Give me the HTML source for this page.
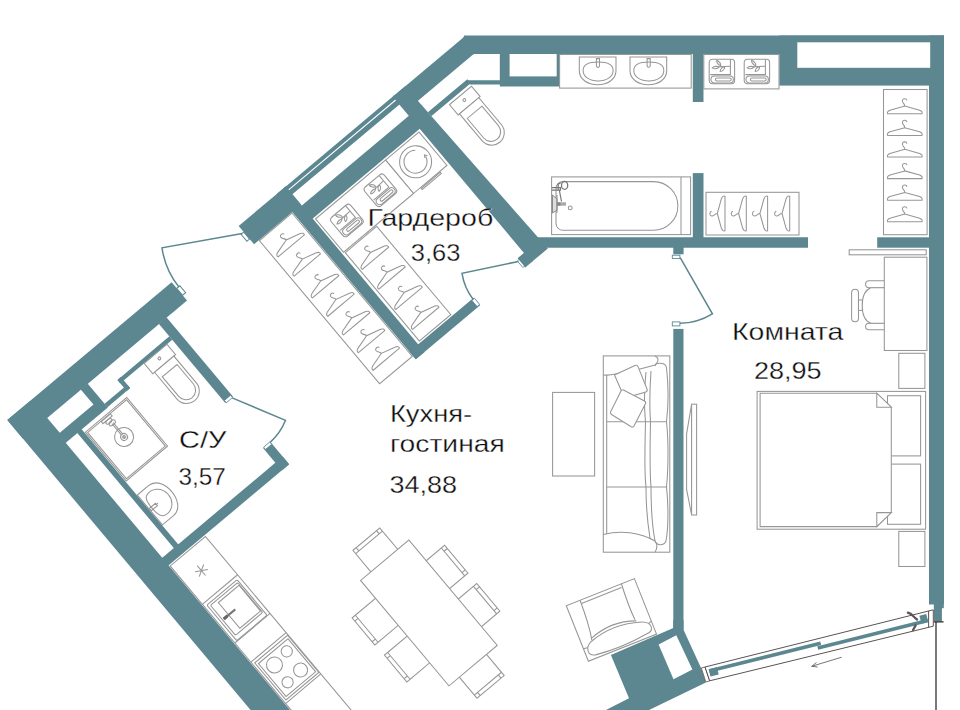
<!DOCTYPE html>
<html lang="ru"><head><meta charset="utf-8"><title>План квартиры</title>
<style>
html,body{margin:0;padding:0;background:#fff;}
body{width:960px;height:710px;overflow:hidden;position:relative;}
svg{position:absolute;left:0;top:0;display:block;}
.f{fill:none;stroke:#969696;stroke-width:1.05;}
.fw{fill:#fff;stroke:#969696;stroke-width:1.05;}
.t{font-family:"Liberation Sans","DejaVu Sans",sans-serif;font-size:24px;fill:#0c0c0c;stroke:#fff;stroke-width:0.32px;paint-order:fill stroke;}
.d{fill:none;stroke:#5c8791;stroke-width:1.5;}
</style></head><body>
<svg width="960" height="710" viewBox="0 0 960 710">
<defs>
<g id="hg"><path class="f" d="M18,8.3 C18,5.6 15.2,5.2 15.6,2.6 C16,0.4 19.6,0.2 20.2,2.6 M18,8.3 L3.2,12.4 Q-0.2,13.8 0.8,16 L35.2,16 Q36.2,13.8 32.8,12.4 Z"/></g>
<g id="tw"><rect class="f" x="0" y="0" width="25.4" height="24.6" rx="3.2"/><path class="f" d="M1.2,15.4 H21.2 V0.3"/><rect class="f" x="1.7" y="16.7" width="22.5" height="7.1" rx="3.55"/><rect class="f" x="6.2" y="18.7" width="15.8" height="3" rx="1.5"/><path class="f" d="M9.5,7.6 L20.8,7 M11.5,6.5 C8.5,5.5 7,2.5 7.5,1 C10,2 12,4.5 11.5,6.5 Z M3,8.6 C5,6.6 8.5,7 10,8 C8,10 4.5,10 3,8.6 Z M11,12.2 C11,9.6 13.5,7.6 15.5,7.6 C15.5,10 13.5,12.2 11,12.2 Z"/></g>
</defs>
<rect width="960" height="710" fill="#fff"/>

<g transform="translate(7.3,420.1) rotate(-40)">
<rect x="0.00" y="0.00" width="30.20" height="520.00" fill="#5c8791" />
<rect x="0.00" y="0.00" width="214.50" height="24.00" fill="#5c8791" />
<rect x="29.50" y="23.50" width="55.50" height="31.50" fill="#5c8791" />
<rect x="32.00" y="24.00" width="44.00" height="19.50" fill="#fff" />
<rect x="85.00" y="50.00" width="29.70" height="4.50" fill="#5c8791" />
<rect x="110.20" y="40.00" width="4.50" height="14.50" fill="#5c8791" />
<rect x="110.20" y="40.00" width="67.80" height="4.50" fill="#5c8791" />
<rect x="178.00" y="23.50" width="10.00" height="103.50" fill="#5c8791" />
<rect x="45.30" y="50.00" width="5.70" height="156.00" fill="#5c8791" />
<rect x="29.50" y="205.00" width="158.00" height="10.00" fill="#5c8791" />
<rect x="178.00" y="186.00" width="9.50" height="29.00" fill="#5c8791" />
<rect x="214.50" y="8.00" width="4.00" height="9.00" fill="#fff" stroke="#5c8791" stroke-width="1"/>
<rect x="298.50" y="8.00" width="3.50" height="9.00" fill="#fff" stroke="#5c8791" stroke-width="1"/>
<path class="d" d="M300,8 L229.2,-32.5 A82,82 0 0 0 217,8.5"/>
<rect x="179.00" y="124.50" width="8.00" height="3.00" fill="#fff" stroke="#5c8791" stroke-width="0.8"/>
<rect x="179.00" y="185.50" width="8.00" height="3.00" fill="#fff" stroke="#5c8791" stroke-width="0.8"/>
<path class="d" d="M186.5,127.5 L213,179 A59,59 0 0 1 187,186"/>
<rect x="302.00" y="0.00" width="61.50" height="24.00" fill="#5c8791" />
<rect x="352.00" y="0.00" width="11.50" height="216.00" fill="#5c8791" />
<rect x="360.00" y="0.00" width="146.00" height="3.90" fill="#5c8791" />
<rect x="360.00" y="5.00" width="146.00" height="5.30" fill="#5c8791" />
<rect x="360.00" y="25.00" width="146.00" height="17.00" fill="#5c8791" />
<rect x="352.00" y="206.00" width="84.00" height="10.00" fill="#5c8791" />
<rect x="432.80" y="207.00" width="3.40" height="8.00" fill="#fff" stroke="#5c8791" stroke-width="0.8"/>
<rect x="493.00" y="206.00" width="3.50" height="8.50" fill="#fff" stroke="#5c8791" stroke-width="0.8"/>
<path class="d" d="M493.5,207 L442.7,179.8 A57.5,57.5 0 0 0 434.5,207"/>
<polygon points="503.20,0.00 519.30,0.00 524.40,216.00 503.20,216.00" fill="#5c8791" />
<rect x="495.00" y="204.00" width="10.00" height="12.00" fill="#5c8791" />
<rect x="504.00" y="0.00" width="93.30" height="19.30" fill="#5c8791" />
<rect x="520.00" y="34.60" width="51.50" height="5.20" fill="#5c8791" />
</g>
<polygon points="464.10,35.50 944.00,35.50 944.00,54.00 474.20,54.00 458.00,60.00" fill="#5c8791" />
<rect x="929.00" y="35.50" width="15.00" height="569.00" fill="#5c8791" />
<rect x="933.90" y="600.00" width="9.90" height="8.20" fill="#5c8791" />
<rect x="933.90" y="600.00" width="8.00" height="21.30" fill="#5c8791" />
<rect x="779.30" y="35.50" width="164.70" height="50.10" fill="#5c8791" />
<rect x="797.30" y="42.30" width="132.90" height="25.50" fill="#fff" />
<rect x="692.80" y="50.00" width="10.70" height="52.00" fill="#5c8791" />
<rect x="692.80" y="173.10" width="10.70" height="66.90" fill="#5c8791" />
<polygon points="530.00,237.30 808.00,237.30 808.00,247.70 547.10,247.70 540.00,247.70" fill="#5c8791" />
<rect x="877.20" y="237.30" width="52.80" height="10.40" fill="#5c8791" />
<rect x="499.80" y="50.00" width="60.00" height="36.50" fill="#5c8791" />
<rect x="509.60" y="54.00" width="47.10" height="22.40" fill="#fff" />
<polygon points="466.90,80.20 500.00,80.20 500.00,84.60 470.00,84.60 468.00,83.00" fill="#5c8791" />
<rect x="673.30" y="247.00" width="10.30" height="7.30" fill="#5c8791" />
<rect x="673.30" y="328.90" width="10.20" height="301.10" fill="#5c8791" />
<rect x="672.30" y="255.20" width="7.60" height="3.40" fill="#fff" stroke="#5c8791" stroke-width="0.9"/>
<rect x="672.30" y="321.90" width="7.60" height="4.00" fill="#fff" stroke="#5c8791" stroke-width="0.9"/>
<path class="d" d="M680.2,257.7 L712.4,313.8 A65,65 0 0 1 680,323.3"/>
<polygon points="673.30,620.00 673.30,628.00 610.90,655.10 629.00,698.20 604.00,711.00 647.00,711.00 705.90,682.60 701.30,668.60 683.50,629.70 683.50,620.00" fill="#5c8791" />
<polygon points="658.60,644.40 676.30,635.30 692.40,669.40 673.50,679.20" fill="#fff" />
<polygon points="701.3,668 705,667 709.7,680.8 705.8,682" fill="#fff" stroke="#6b5a55" stroke-width="0.9"/>
<polygon points="705,667 933.3,609.8 933.3,626.2 709.7,680.8" fill="#fff" stroke="#4a4040" stroke-width="0.9"/>
<path d="M928.6,611 V627.2" fill="none" stroke="#4a4040" stroke-width="0.9"/>
<g transform="translate(705,667) rotate(-14.07)">
<rect x="3.00" y="3.20" width="115.00" height="3.60" fill="#5c8791" />
<rect x="3.00" y="3.20" width="8.50" height="7.30" fill="#5c8791" />
<rect x="114.00" y="7.20" width="113.50" height="3.60" fill="#5c8791" />
<rect x="220.50" y="2.40" width="7.00" height="8.20" fill="#5c8791" />
<path d="M210,-3.4 L212.5,-1.5 L215.5,3 L217.3,5.5 M214.4,10.8 L210.8,14.7" fill="none" stroke="#585858" stroke-width="2.3" stroke-linecap="round" stroke-linejoin="round"/>
</g>
<path d="M841.7,657.2 L811.7,666.3 M816.5,662.5 L811.7,666.3 L817.6,667" fill="none" stroke="#666" stroke-width="0.9"/>
<path d="M933.9,621.8 L943.5,621.8 M936,621.8 L936,711" fill="none" stroke="#222" stroke-width="1.2"/><g transform="translate(7.3,420.1) rotate(-40)">
<rect class="fw" x="141.3" y="44.5" width="29.69999999999999" height="13.5"/><circle class="f" cx="156.15" cy="50.5" r="1.4"/><path class="fw" d="M143.55,58.0 L143.55,93.0 A12.6,12.6 0 0 0 168.75,93.0 L168.75,58.0 Z"/><path class="f" d="M146.55,66.5 L146.55,92.0 A9.6,9.6 0 0 0 165.75,92.0 L165.75,66.5 Z"/>
<rect class="fw" x="541.5" y="42.6" width="28.700000000000045" height="13.5"/><circle class="f" cx="555.85" cy="48.6" r="1.4"/><path class="fw" d="M543.25,56.1 L543.25,91.1 A12.6,12.6 0 0 0 568.45,91.1 L568.45,56.1 Z"/><path class="f" d="M546.25,64.6 L546.25,90.1 A9.6,9.6 0 0 0 565.45,90.1 L565.45,64.6 Z"/>
<rect class="fw" x="52" y="59.5" width="54" height="63.5"/><rect class="f" x="53.6" y="61.1" width="50.8" height="60.3"/>
<circle class="f" cx="78.6" cy="88" r="9.5"/><circle class="f" cx="78.6" cy="88" r="3.4"/><circle cx="78.6" cy="88" r="1.7" fill="#aaa" stroke="#888" stroke-width="0.6"/>
<path class="f" d="M79.4,85 L79.4,70 M77.8,85 L77.8,70 M71,61.6 h12 v2.6 h-12 z"/><ellipse class="f" cx="78.6" cy="69.5" rx="3.6" ry="2.3"/><ellipse class="f" cx="77" cy="66.3" rx="3.6" ry="2"/>
<path class="fw" d="M51.5,141 L66,141 C76,141 80,152 80,160.5 C80,169 76,180 66,180 L51.5,180 Z"/>
<path class="f" d="M58,147.5 C53,150 53,171 58,173.5 C66,177 75.5,171 75.5,160.5 C75.5,150 66,144 58,147.5 Z"/>
<path class="f" d="M52,159 h8 v3 h-8 z M60,160.5 h2"/>
<rect class="fw" x="308.5" y="24.5" width="42.7" height="187"/>
<use href="#hg" x="311.5" y="33.0"/>
<use href="#hg" x="311.5" y="58.0"/>
<use href="#hg" x="311.5" y="86.5"/>
<use href="#hg" x="311.5" y="110.5"/>
<use href="#hg" x="311.5" y="134.8"/>
<use href="#hg" x="311.5" y="158.0"/>
<use href="#hg" x="311.5" y="181.0"/>
<rect class="fw" x="365.5" y="44" width="91.5" height="43.5"/>
<rect class="fw" x="457" y="44" width="43.5" height="43.5"/>
<circle class="f" cx="478.8" cy="64.6" r="16"/><path class="f" d="M490,67 A11.5,11.5 0 1 1 486,55.5 M488.5,67.5 l1.5,-2.5 l1.8,2.6"/>
<path class="f" d="M466,88.5 h25 v1.6 h-25 z"/>
<rect class="fw" x="366.5" y="89" width="41" height="115.3"/>
<use href="#hg" x="368" y="96.7"/>
<use href="#hg" x="368" y="122.5"/>
<use href="#hg" x="368" y="149.0"/>
<use href="#hg" x="368" y="175.0"/>
<g transform="translate(388.4,65.4) rotate(0) translate(-12.7,-12.3)"><use href="#tw"/></g>
<g transform="translate(433.5,63.8) rotate(0) translate(-12.7,-12.3)"><use href="#tw"/></g>
<rect class="fw" x="31" y="216.5" width="46" height="300"/>
<path class="f" d="M31,266.5 h46 M31,317 h46 M31,342 h46 M31,396 h46"/>
<path class="f" d="M52,233.5 v13 M46.4,236.8 l11.2,6.5 M46.4,243.3 l11.2,-6.5"/>
<rect class="f" x="34" y="270" width="39.5" height="46.5" rx="1.5"/><rect class="f" x="36.5" y="272.5" width="35.5" height="39" rx="1.5"/><rect class="f" x="44.3" y="275.5" width="27" height="33.5"/>
<path d="M38,291.5 h15" stroke="#777" stroke-width="2.2" fill="none"/><path d="M38,291.5 h5" stroke="#666" stroke-width="3" fill="none"/>
<rect class="f" x="33.5" y="345" width="43" height="48.5"/><rect class="f" x="35.8" y="348" width="38.6" height="43"/>
<circle class="f" cx="47.3" cy="359.3" r="8"/><circle class="f" cx="65.4" cy="356.8" r="5.6"/><circle class="f" cx="64" cy="380" r="7"/><circle class="f" cx="46.2" cy="381" r="5.6"/>
<rect class="fw" x="181" y="322" width="35" height="30"/><path class="f" d="M181,326.2 H216 M185.2,322 v4.2 M211.8,322 v4.2"/>
<rect class="fw" x="181" y="485" width="35.5" height="30"/><path class="f" d="M181,510.8 H216.5 M185.2,515 v-4.2 M212.3,515 v-4.2"/>
<rect class="fw" x="228" y="377" width="26.5" height="36.30000000000001"/><path class="f" d="M250.3,377 V413.3 M254.5,381.2 h-4.2 M254.5,409.1 h-4.2"/>
<rect class="fw" x="228" y="427" width="26.5" height="36"/><path class="f" d="M250.3,427 V463 M254.5,431.2 h-4.2 M254.5,458.8 h-4.2"/>
<rect class="fw" x="137" y="373.2" width="33" height="35.30000000000001"/><path class="f" d="M141.2,373.2 V408.5 M137,377.4 h4.2 M137,404.3 h4.2"/>
<rect class="fw" x="137.8" y="422.5" width="32.19999999999999" height="34.89999999999998"/><path class="f" d="M142.0,422.5 V457.4 M137.8,426.7 h4.2 M137.8,453.2 h4.2"/>
<rect class="fw" x="167.5" y="350" width="63" height="137.5"/>
</g>
<rect class="fw" x="559.6" y="54.5" width="131.6" height="33.6"/>
<path class="f" d="M579.3,57 h36.7 v13.5 c0,9 -8.5,14.2 -18.35,14.2 c-9.85,0 -18.35,-5.2 -18.35,-14.2 z"/>
<path class="f" d="M583.0999999999999,70.5 C583.0999999999999,64 590.3,62 598.0999999999999,62 C605.9,62 613.0999999999999,64 613.0999999999999,70.5 C613.0999999999999,77 606.3,81 598.0999999999999,81 C589.9,81 583.0999999999999,77 583.0999999999999,70.5 Z"/>
<path class="f" d="M596.4,58.6 v7.2 a1.55,1.55 0 0 0 3.1,0 v-7.2 z"/>
<path class="f" d="M630,57 h36.7 v13.5 c0,9 -8.5,14.2 -18.35,14.2 c-9.85,0 -18.35,-5.2 -18.35,-14.2 z"/>
<path class="f" d="M633.8,70.5 C633.8,64 641,62 648.8,62 C656.6,62 663.8,64 663.8,70.5 C663.8,77 657,81 648.8,81 C640.6,81 633.8,77 633.8,70.5 Z"/>
<path class="f" d="M647.1,58.6 v7.2 a1.55,1.55 0 0 0 3.1,0 v-7.2 z"/>
<rect class="fw" x="703.8" y="54.5" width="75.2" height="34.4"/>
<use href="#tw" x="709.2" y="59.2"/><use href="#tw" x="744.2" y="59.2"/>
<rect class="fw" x="551.6" y="176.9" width="139" height="57.7"/><path class="f" d="M681,176.9 v57.7"/>
<path class="f" d="M563,181.6 H653.5 A24.35,24.35 0 0 1 653.5,230.3 H563 A7,7 0 0 1 556,223.3 V188.6 A7,7 0 0 1 563,181.6 Z"/>
<circle class="f" cx="570.2" cy="207.9" r="1.9"/>
<ellipse cx="564.6" cy="185.4" rx="3.1" ry="3.9" fill="#fff" stroke="#777" stroke-width="1.3"/>
<path d="M552,187.6 h8.5 v2.6 h-8.5 M558.2,184 L558.2,190 M559.3,190 L561.5,201.5 M557.2,184.5 l3.5,-1.5" stroke="#777" stroke-width="1.2" fill="none"/>
<path d="M552.5,195 L557,199 V210 L552.5,213 Z M557,195 V213" stroke="#8a8a8a" stroke-width="1" fill="#ddd"/>
<rect x="557" y="202.3" width="9" height="3.4" fill="#a8a8a8"/><rect x="557" y="202.3" width="3.4" height="3.4" fill="#888"/>
<rect class="fw" x="706" y="192.3" width="93" height="42.7"/>
<g transform="translate(709,231.5) rotate(-90)"><use href="#hg"/></g>
<g transform="translate(730.3,231.5) rotate(-90)"><use href="#hg"/></g>
<g transform="translate(751.6,231.5) rotate(-90)"><use href="#hg"/></g>
<g transform="translate(773.7,231.5) rotate(-90)"><use href="#hg"/></g>
<rect class="fw" x="883.5" y="89.5" width="43.6" height="145.2"/>
<use href="#hg" x="886.8" y="97.8"/>
<use href="#hg" x="886.8" y="119.4"/>
<use href="#hg" x="886.8" y="141.0"/>
<use href="#hg" x="886.8" y="162.6"/>
<use href="#hg" x="886.8" y="184.2"/>
<use href="#hg" x="886.8" y="205.8"/>
<rect class="fw" x="849.2" y="249.8" width="77" height="5"/>
<rect class="fw" x="865.6" y="280.8" width="24" height="6.9" rx="3.45"/><rect class="fw" x="865.6" y="323.2" width="24" height="6.6" rx="3.3"/>
<rect class="fw" x="851.6" y="289.2" width="6.9" height="32.5" rx="3.45"/><rect class="fw" x="858.5" y="300" width="4" height="10.4"/>
<path class="fw" d="M886,287.7 H871 C864.5,290 862.2,298 862.2,305.5 C862.2,313 864.5,321 871,323.2 H886 Z"/>
<rect class="fw" x="884.3" y="257.2" width="42.6" height="93.3"/>
<rect class="fw" x="898.8" y="353.3" width="26.1" height="35.1"/><rect class="fw" x="898.8" y="531.4" width="26.1" height="35.1"/>
<rect class="fw" x="757.1" y="391.4" width="168.5" height="137.8"/>
<rect class="f" x="887.5" y="395.7" width="33.1" height="60.2"/><rect class="f" x="887.5" y="464.1" width="33.1" height="60.2"/>
<path class="fw" d="M760.1,393.2 H876.8 L891.3,407.2 V512.6 L876.8,526.6 H760.1 Z"/>
<path class="fw" d="M876.8,393.2 V407.2 H891.3 Z"/><path class="fw" d="M876.8,526.6 V512.6 H891.3 Z"/>
<rect class="fw" x="552.6" y="392.4" width="42" height="83.6"/>
<rect class="fw" x="603.3" y="355.9" width="66.5" height="196.3"/>
<path class="f" d="M606.7,375 V534 M606.7,421.8 H666 M606.7,486.9 H666"/>
<path class="f" d="M603.3,375 C615,376 618,372 625,373 L655,365 C660,360 658,357.5 655,356"/>
<path class="f" d="M603.3,534.6 C620,530 640,532 655,541 C658,545 657,549 655,552.2"/>
<path class="f" d="M646,372 C643,400 645,415 645.5,421.8 C645,445 644,470 646,486.9 C646,505 647,520 650,538"/>
<path class="f" d="M651,371 C649,400 650,415 650.5,421.8 C650,445 649.5,470 651,486.9 C651,505 652,525 655,541"/>
<path class="f" d="M655,366 C656,362 666,362 666.5,368 C668.5,385 668.5,405 666.5,421.8 C668.5,440 668.5,468 666.5,486.9 C668.5,505 668.5,528 666,541 C664,546 657,546 655,541"/>
<path class="fw" d="M614.5,375 L635,365.5 Q637,364.6 638,366.6 L647,389 Q647.8,391 645.8,392 L625,398 L621.5,391 Z"/>
<path class="fw" d="M623.5,390 L644.5,401 Q646.3,402 645.4,403.8 L634,426 Q633,427.8 631.2,426.8 L611.5,414.5 Q609.8,413.4 610.8,411.6 L621,391 Q622,389.2 623.5,390 Z"/>
<path class="fw" d="M691.6,404.2 L686.6,433.8 V489.4 L691.6,514.8 Z"/><rect class="fw" x="691.6" y="404.2" width="5" height="110.8"/>
<g transform="translate(566.3,605.7) rotate(-21.7)">
<rect class="fw" x="0" y="0" width="73.3" height="59.8"/>
<path class="f" d="M14.8,0 C14.5,15 13.5,30 11,41.5 M59.3,0 C58.2,15 57.8,28 58.6,38.5 M15,3.5 H58 M11.5,39.5 Q36,30.5 59.5,40 M0,46.3 Q3,46.8 5.5,47.5 M73.3,45.8 Q71,46.6 69.5,47.2"/>
<path class="fw" d="M10,42.5 Q36,33.5 64,43 Q72,46 71,52 Q70,56 64,56 Q36,60 9,56.5 Q3,55 3.5,50 Q4,45 10,42.5 Z"/>
</g><text class="t" x="367.5" y="226.3" textLength="125.8" lengthAdjust="spacingAndGlyphs">Гардероб</text>
<text class="t" x="410.8" y="260.5" textLength="49.7" lengthAdjust="spacingAndGlyphs">3,63</text>
<text class="t" x="732" y="339.7" textLength="111.4" lengthAdjust="spacingAndGlyphs">Комната</text>
<text class="t" x="753.9" y="378.9" textLength="67.7" lengthAdjust="spacingAndGlyphs">28,95</text>
<text class="t" x="389.9" y="421.6" textLength="82.3" lengthAdjust="spacingAndGlyphs">Кухня-</text>
<text class="t" x="389.9" y="451.7" textLength="114.9" lengthAdjust="spacingAndGlyphs">гостиная</text>
<text class="t" x="389.4" y="492.6" textLength="67.6" lengthAdjust="spacingAndGlyphs">34,88</text>
<text class="t" x="179.1" y="447.7" textLength="47.4" lengthAdjust="spacingAndGlyphs">С/У</text>
<text class="t" x="178.6" y="484.8" textLength="47.3" lengthAdjust="spacingAndGlyphs">3,57</text>
</svg></body></html>
